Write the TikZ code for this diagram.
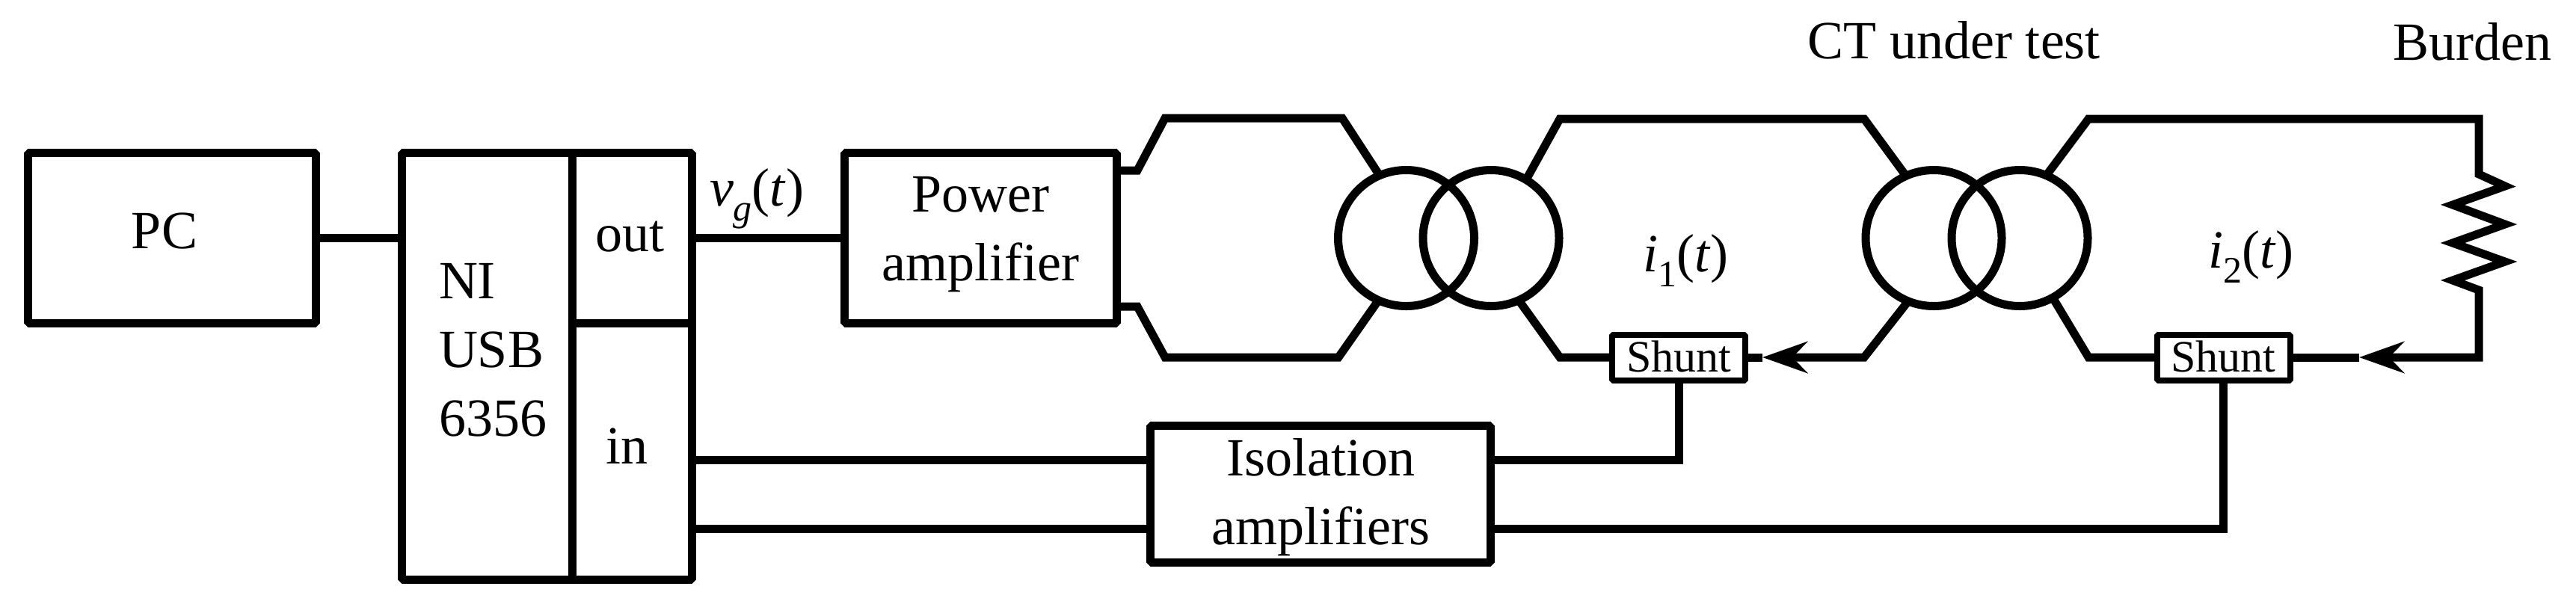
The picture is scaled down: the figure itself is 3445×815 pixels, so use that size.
\documentclass[tikz,border=0pt]{standalone}
\usepackage{fontspec}
\setmainfont{Liberation Serif}
\usetikzlibrary{arrows.meta,calc}
\newcommand\mainsz{\fontsize{36}{46}\selectfont}
\newcommand\ilab[2]{\textit{#1}\raisebox{-.28em}{\fontsize{25}{25}\selectfont #2}(\textit{t})}
\tikzset{
  wire/.style={line width=5.5pt,line join=miter},
  box/.style={draw,rectangle,line width=5.5pt,line join=bevel,inner sep=0pt,outer sep=0pt,font=\mainsz},
  coil/.style={draw,circle,line width=5.5pt,inner sep=0pt,outer sep=0pt,minimum size=91pt},
  shunt/.style={draw,rectangle,line width=4pt,line join=bevel,inner sep=0pt,outer sep=0pt,
     minimum width=89pt,minimum height=30.5pt,font=\fontsize{30}{36}\selectfont,text height=19pt,text depth=0pt},
  lab/.style={inner sep=0pt,outer sep=0pt,font=\mainsz},
  head/.style={-{Stealth[length=30pt,width=21pt,inset=10pt]}}
}
\begin{document}
\begin{tikzpicture}[x=.5pt,y=-.5pt]
\useasboundingbox (0,0) rectangle (3445,815);
% boxes
\node[box,minimum width=192.5pt,minimum height=114pt,text height=14pt,text depth=0pt] (pc) at (230,318.5) {PC\hspace*{10pt}};
\node[box,minimum width=114pt,minimum height=285.5pt] (nil) at (651,490) {};
\node[box,minimum width=80pt,minimum height=114pt,text height=17.5pt,text depth=0pt] (nio) at (845,318.5) {out\hspace*{3pt}};
\node[box,minimum width=80pt,minimum height=171.5pt,text height=16pt,text depth=0pt] (nii) at (845,604) {in\hspace*{7pt}};
\node[lab,align=left,anchor=base west] (nit) at (587,583) {NI\\USB\\6356};
\node[box,minimum width=182pt,minimum height=114pt,align=center,text height=56.5pt,text depth=0pt] (amp) at (1311.5,318.5) {Power\\amplifier};
\node[box,minimum width=227.75pt,minimum height=91.5pt,align=center,text height=67pt,text depth=0pt] (iso) at (1766,661) {Isolation\\amplifiers};
% transformers
\node[coil] (t1a) at (1880.5,318.5) {};
\node[coil] (t1b) at (1994,318.5) {};
\node[coil] (t2a) at (2586,318.5) {};
\node[coil] (t2b) at (2701,318.5) {};
% shunts
\node[shunt] (s1) at (2245,478) {Shunt};
\node[shunt] (s2) at (2973.5,478) {Shunt};
% labels
\node[lab,anchor=base west] (vg) at (949,275) {\ilab{v}{\textit{g}}};
\node[lab,anchor=base west] (i1) at (2197,363) {\ilab{i}{1}};
\node[lab,anchor=base west] (i2) at (2953,358) {\ilab{i}{2}};
\node[lab,anchor=base west] (ct) at (2417,78) {CT under test};
\node[lab,anchor=base west] (bu) at (3200,80) {Burden};
% routing points
\coordinate (a1) at (1521,228);
\coordinate (a2) at (1558,158);
\coordinate (a3) at (1795,158);
\coordinate (b1) at (1521,410);
\coordinate (b2) at (1558,478);
\coordinate (b3) at (1790,478);
\coordinate (c1) at (2086,159);
\coordinate (c2) at (2493,159);
\coordinate (d1) at (2086,478);
\coordinate (d2) at (2493,478);
\coordinate (tip1) at (2357,478);
\coordinate (e1) at (2793,159);
\coordinate (e2) at (3315,159);
\coordinate (f1) at (2793,478);
\coordinate (f2) at (3315,478);
\coordinate (tip2) at (3155,478);
\coordinate (ya) at (0,615.5);
\coordinate (yb) at (0,707);
% connectors
\draw[wire] (pc.east) -- (pc.east -| nil.west);
\draw[wire] (nio.east) -- (amp.west);
\draw[wire] (nii.east |- ya) -- (iso.west |- ya);
\draw[wire] (nii.east |- yb) -- (iso.west |- yb);
\draw[wire] (amp.east |- a1) -- (a1) -- (a2) -- (a3) -- (t1a.113);
\draw[wire] (amp.east |- b1) -- (b1) -- (b2) -- (b3) -- (t1a.246);
\draw[wire] (t1b.59) -- (c1) -- (c2) -- (t2a.114);
\draw[wire] (t1b.-66) -- (d1) -- (s1.west);
\draw[wire] (s1.east) -- (tip1);
\draw[wire,head] (t2a.248) -- (d2) -- (tip1);
\draw[wire,head] (t2b.67) -- (e1) -- (e2) -- (3315,233) -- (3350,249) -- (3280,274) -- (3350,300) -- (3280,325) -- (3350,350) -- (3280,375) -- (3315,388) -- (f2) -- (tip2);
\draw[wire] (tip2) -- (s2.east);
\draw[wire] (t2b.-61) -- (f1) -- (s2.west);
\draw[wire] (s1.south) -- (s1.south |- ya) -- (iso.east |- ya);
\draw[wire] (s2.south) -- (s2.south |- yb) -- (iso.east |- yb);
\end{tikzpicture}
\end{document}
